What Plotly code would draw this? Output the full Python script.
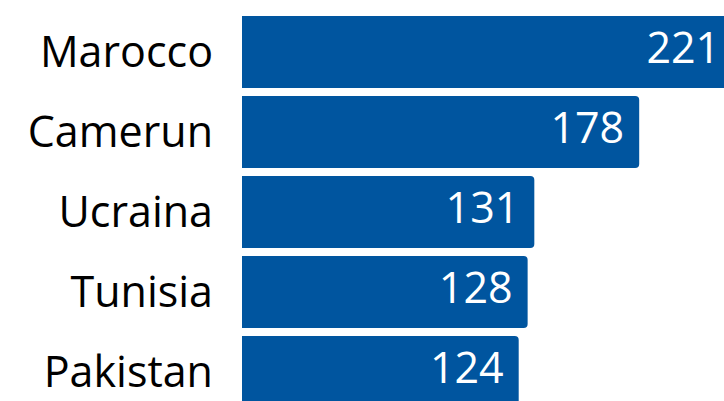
import plotly.graph_objects as go

countries = ["Marocco", "Camerun", "Ucraina", "Tunisia", "Pakistan"]
values = [221, 178, 131, 128, 124]

BAR_COLOR = "#00559F"
FONT = "Open Sans"
FS = 43

fig = go.Figure()
fig.add_trace(go.Bar(
    x=values, y=countries, orientation="h",
    marker=dict(color=BAR_COLOR, line=dict(width=0)),
    hoverinfo="skip",
))
# value labels: invisible markers give the text a fixed gap from the bar end
fig.add_trace(go.Scatter(
    x=values, y=countries, mode="markers+text",
    marker=dict(size=22.4, color="rgba(0,0,0,0)", line=dict(width=0)),
    text=[str(v) for v in values], textposition="middle left",
    textfont=dict(family=FONT, size=FS, color="white"),
    cliponaxis=True, hoverinfo="skip",
))

fig.update_layout(
    width=724, height=401,
    margin=dict(l=242, r=0, t=0, b=0, pad=0),
    paper_bgcolor="white", plot_bgcolor="white",
    bargap=0.1, barcornerradius=4,
    showlegend=False,
    font=dict(family=FONT, size=FS, color="black"),
)
fig.update_xaxes(range=[0, 216], visible=False, showgrid=False, zeroline=False)
fig.update_yaxes(
    categoryorder="array", categoryarray=countries,
    range=[4.3625, -0.65], showgrid=False, zeroline=False, showline=False,
    ticks="", ticklabelstandoff=28,
    tickfont=dict(family=FONT, size=FS, color="black"),
)

fig.write_html("out.html")
